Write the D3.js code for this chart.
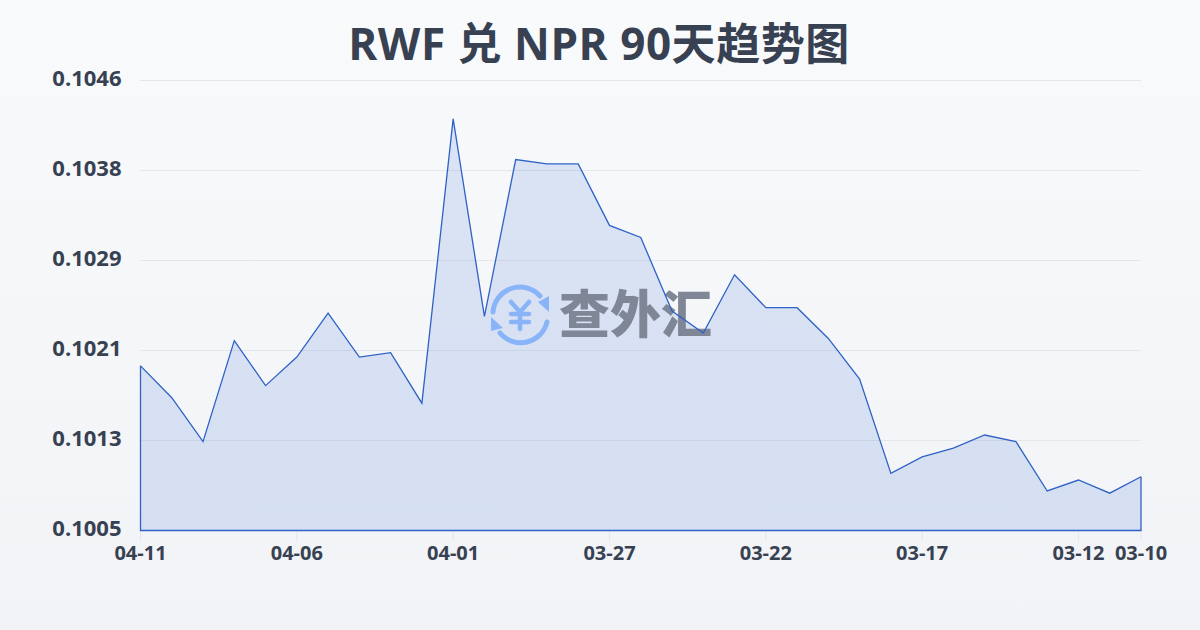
<!DOCTYPE html>
<html><head><meta charset="utf-8">
<script src="https://cdn.jsdelivr.net/npm/d3@7/dist/d3.min.js"></script>
<style>html,body{margin:0;padding:0;width:1200px;height:630px;overflow:hidden}svg{display:block}</style>
</head><body><svg id="c" width="1200" height="630"></svg>
<script>
const titleText = "RWF 兑 NPR 90天趋势图";
const dates = ["04-11","04-10","04-09","04-08","04-07","04-06","04-05","04-04","04-03","04-02","04-01","03-31","03-30","03-29","03-28","03-27","03-26","03-25","03-24","03-23","03-22","03-21","03-20","03-19","03-18","03-17","03-16","03-15","03-14","03-13","03-12","03-11","03-10"];
const rates = [0.10200,0.10171,0.10131,0.10223,0.10182,0.10208,0.10248,0.10208,0.10212,0.10166,0.10425,0.10245,0.10388,0.10384,0.10384,0.10328,0.10317,0.10250,0.10230,0.10283,0.10253,0.10253,0.10225,0.10188,0.10102,0.10117,0.10125,0.10137,0.10131,0.10086,0.10096,0.10084,0.10099];
const xTickDates = ["04-11","04-06","04-01","03-27","03-22","03-17","03-12","03-10"];
const yTicks = [0.1005,0.1013,0.1021,0.1029,0.1038,0.1046];
const yGrid = [0.1005,0.10132,0.10214,0.10296,0.10378,0.1046];

const FONT = '"Open Sans","Noto Sans CJK SC",sans-serif';
const svg = d3.select("#c");
const defs = svg.append("defs");
const bg = defs.append("linearGradient").attr("id","bg").attr("x1",0).attr("y1",0).attr("x2",0).attr("y2",1);
bg.append("stop").attr("offset",0).attr("stop-color","#f8fafc");
bg.append("stop").attr("offset",1).attr("stop-color","#f1f3f6");
svg.append("rect").attr("width",1200).attr("height",630).attr("fill","url(#bg)");

const x = d3.scalePoint().domain(dates).range([140.5,1141]);
const y = d3.scaleLinear().domain([0.1005,0.1046]).range([530.5,80.5]);

svg.append("text").attr("x",599).attr("y",60).attr("text-anchor","middle").attr("letter-spacing",0.55)
  .attr("font-family",FONT).attr("font-weight",700).attr("font-size",44).attr("fill","#374151").text(titleText);

svg.append("g").selectAll("line").data(yGrid).join("line")
  .attr("x1",140).attr("x2",1141).attr("y1",d=>y(d)).attr("y2",d=>y(d))
  .attr("stroke","#e5e7eb").attr("stroke-width",1).attr("shape-rendering","crispEdges");

svg.append("g").selectAll("text").data(yTicks).join("text")
  .attr("x",121.5).attr("y",(d,i)=>y(yGrid[i])-2).attr("dy","0.35em").attr("text-anchor","end")
  .attr("font-family",FONT).attr("font-weight",700).attr("font-size",22).attr("fill","#374151")
  .text(d=>d.toFixed(4));

svg.append("g").selectAll("line").data(xTickDates).join("line")
  .attr("x1",d=>x(d)).attr("x2",d=>x(d)).attr("y1",530).attr("y2",541)
  .attr("stroke","#e5e7eb").attr("stroke-width",1);

svg.append("g").selectAll("text").data(xTickDates).join("text")
  .attr("x",d=>x(d)).attr("y",560).attr("text-anchor","middle")
  .attr("font-family",FONT).attr("font-weight",700).attr("font-size",20).attr("fill","#374151")
  .text(d=>d);

const area = d3.area().x((d,i)=>x(dates[i])).y0(y(0.1005)).y1(d=>y(d));
svg.append("path").datum(rates).attr("d",area).attr("fill","#2a60d8").attr("fill-opacity",0.14);

// watermark
const wm = svg.append("g");
const blue = "#8ab4f8";
wm.append("path").attr("d","M493 312 A27 27 0 0 1 540 296").attr("fill","none").attr("stroke",blue).attr("stroke-width",5).attr("stroke-linecap","round");
wm.append("path").attr("d","M547 322 A27 27 0 0 1 500 333").attr("fill","none").attr("stroke",blue).attr("stroke-width",5).attr("stroke-linecap","round");
wm.append("path").attr("d","M538 302 L549 296 L549 312 Z").attr("fill",blue);
wm.append("path").attr("d","M491 317 L491 331 L503 328 Z").attr("fill",blue);
wm.append("path").attr("d","M511 302 L520 312 L529 302 M511 314 H529 M511 322 H529 M520 312 V329").attr("fill","none").attr("stroke",blue).attr("stroke-width",4.5).attr("stroke-linecap","round").attr("stroke-linejoin","round");
wm.append("text").attr("x",559).attr("y",333).attr("font-family",'"Noto Sans CJK SC",sans-serif').attr("font-weight",900).attr("font-size",51).attr("fill","#7f8696").text("查外汇");

svg.append("path").datum(rates).attr("d",d3.line().x((d,i)=>x(dates[i])).y(d=>y(d)).curve(d3.curveLinear))
  .attr("fill","none").attr("stroke","#2f62c6").attr("stroke-width",1.3);
svg.append("path").attr("d",`M${x(dates[0])} ${y(rates[0])}V${y(0.1005)}H${x(dates[dates.length-1])}V${y(rates[rates.length-1])}`)
  .attr("fill","none").attr("stroke","#2f62c6").attr("stroke-width",1.3);
</script></body></html>
